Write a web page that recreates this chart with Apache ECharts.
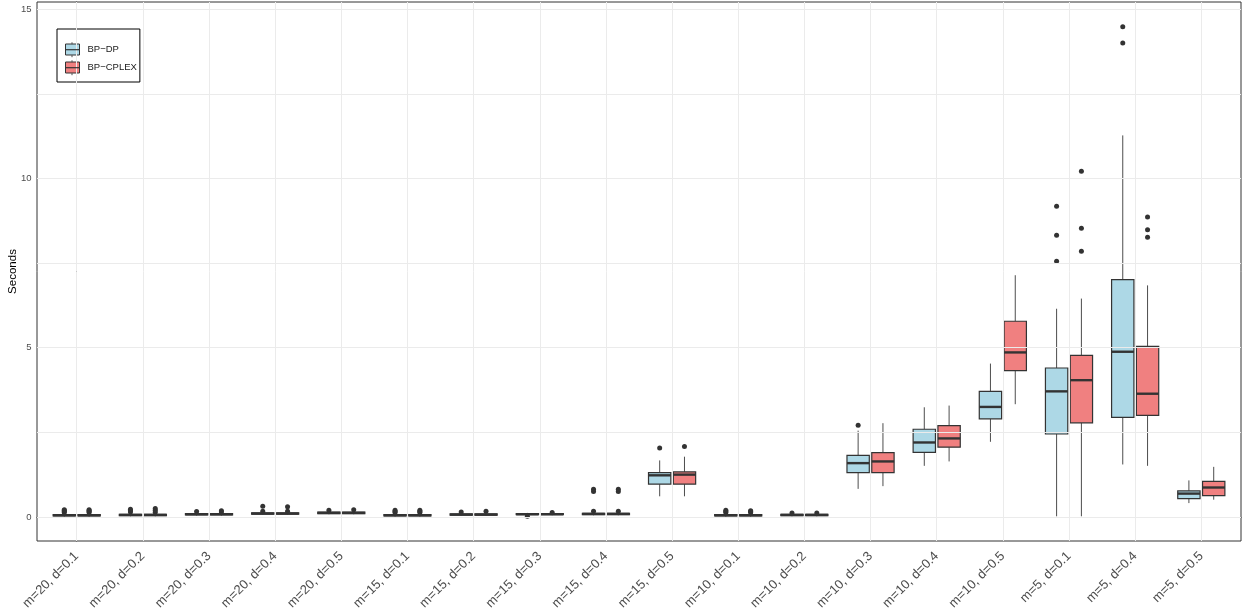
<!DOCTYPE html>
<html>
<head>
<meta charset="utf-8">
<script src="https://cdn.jsdelivr.net/npm/echarts@6/dist/echarts.min.js"></script>
<style>
  html, body { margin: 0; padding: 0; background: #ffffff; }
  #chart { width: 1242px; height: 614px; }
</style>
</head>
<body>
<div id="chart"></div>
<script>
// Problem settings on the x axis
const categories = [
  'm=20, d=0.1', 'm=20, d=0.2', 'm=20, d=0.3', 'm=20, d=0.4', 'm=20, d=0.5',
  'm=15, d=0.1', 'm=15, d=0.2', 'm=15, d=0.3', 'm=15, d=0.4', 'm=15, d=0.5',
  'm=10, d=0.1', 'm=10, d=0.2', 'm=10, d=0.3', 'm=10, d=0.4', 'm=10, d=0.5',
  'm=5, d=0.1', 'm=5, d=0.4', 'm=5, d=0.5'
];

const yTicks = [0, 5, 10, 15];
const yGrid = [0, 2.5, 5, 7.5, 10, 12.5, 15];

// Five-number summaries: [lower whisker, Q1, median, Q3, upper whisker]
const dpStats = [
  [0.01, 0.03, 0.05, 0.07, 0.11],
  [0.02, 0.04, 0.06, 0.08, 0.12],
  [0.04, 0.06, 0.08, 0.10, 0.13],
  [0.06, 0.08, 0.10, 0.12, 0.15],
  [0.08, 0.10, 0.12, 0.14, 0.17],
  [0.01, 0.03, 0.05, 0.07, 0.10],
  [0.03, 0.05, 0.07, 0.09, 0.12],
  [0.05, 0.07, 0.08, 0.10, 0.12],
  [0.05, 0.07, 0.09, 0.11, 0.14],
  [0.61, 0.97, 1.23, 1.31, 1.67],
  [0.01, 0.03, 0.05, 0.07, 0.10],
  [0.02, 0.04, 0.06, 0.08, 0.10],
  [0.83, 1.31, 1.59, 1.82, 2.55],
  [1.51, 1.91, 2.20, 2.59, 3.24],
  [2.22, 2.90, 3.25, 3.71, 4.53],
  [0.02, 2.45, 3.71, 4.40, 6.15],
  [1.55, 2.94, 4.88, 7.01, 11.27],
  [0.41, 0.54, 0.69, 0.77, 1.08]
];

const cplexStats = [
  [0.01, 0.03, 0.05, 0.07, 0.11],
  [0.02, 0.04, 0.06, 0.08, 0.12],
  [0.04, 0.06, 0.08, 0.10, 0.13],
  [0.06, 0.08, 0.10, 0.12, 0.15],
  [0.08, 0.10, 0.12, 0.14, 0.17],
  [0.01, 0.03, 0.05, 0.07, 0.10],
  [0.03, 0.05, 0.07, 0.09, 0.12],
  [0.05, 0.07, 0.08, 0.10, 0.12],
  [0.05, 0.07, 0.09, 0.11, 0.14],
  [0.61, 0.97, 1.25, 1.33, 1.78],
  [0.01, 0.03, 0.05, 0.07, 0.10],
  [0.02, 0.04, 0.06, 0.08, 0.10],
  [0.91, 1.31, 1.64, 1.90, 2.77],
  [1.64, 2.06, 2.32, 2.70, 3.29],
  [3.33, 4.32, 4.86, 5.78, 7.14],
  [0.02, 2.78, 4.04, 4.77, 6.45],
  [1.51, 3.00, 3.64, 5.04, 6.84],
  [0.51, 0.63, 0.87, 1.05, 1.48]
];

// Points beyond the whiskers
const dpOutliers = [
  [0.13, 0.16, 0.19, 0.21],
  [0.15, 0.19, 0.23],
  [0.16],
  [0.17, 0.32],
  [0.20],
  [0.13, 0.16, 0.20],
  [0.15],
  [0.02],
  [0.17, 0.75, 0.82],
  [2.04],
  [0.13, 0.16, 0.20],
  [0.12],
  [2.71],
  [],
  [],
  [7.55, 8.32, 9.18],
  [14.00, 14.48],
  []
];

const cplexOutliers = [
  [0.13, 0.16, 0.19, 0.21],
  [0.14, 0.20, 0.25],
  [0.15, 0.18],
  [0.17, 0.30],
  [0.21],
  [0.13, 0.16, 0.20],
  [0.17],
  [0.13],
  [0.17, 0.75, 0.82],
  [2.08],
  [0.13, 0.16, 0.18],
  [0.12],
  [],
  [],
  [],
  [7.85, 8.53, 10.21],
  [8.26, 8.48, 8.86],
  []
];

const DP_NAME = 'BP\u2212DP';
const CPLEX_NAME = 'BP\u2212CPLEX';
const DP_FILL = '#ADD8E6';
const CPLEX_FILL = '#F08080';
const INK = '#333333';
const FONT = '"Liberation Sans", Arial, Helvetica, sans-serif';

// Dodged box geometry, in category units
const DODGE = 0.1875;
const HALF = 0.16875;

function boxRenderer(offset, fill) {
  return function (params, api) {
    const cx = api.value(0) + offset;
    const lo = api.value(1), q1 = api.value(2), med = api.value(3), q3 = api.value(4), hi = api.value(5);
    const pLo = api.coord([cx, lo]);
    const pQ1 = api.coord([cx, q1]);
    const pQ3 = api.coord([cx, q3]);
    const pHi = api.coord([cx, hi]);
    const left = api.coord([cx - HALF, q1]);
    const right = api.coord([cx + HALF, q3]);
    const mL = api.coord([cx - HALF, med]);
    const mR = api.coord([cx + HALF, med]);
    return {
      type: 'group',
      children: [
        { type: 'line', shape: { x1: pLo[0], y1: pLo[1], x2: pQ1[0], y2: pQ1[1] },
          style: { stroke: '#4d4d4d', lineWidth: 1 } },
        { type: 'line', shape: { x1: pQ3[0], y1: pQ3[1], x2: pHi[0], y2: pHi[1] },
          style: { stroke: '#4d4d4d', lineWidth: 1 } },
        { type: 'rect',
          shape: { x: left[0], y: right[1], width: right[0] - left[0], height: left[1] - right[1] },
          style: { fill: fill, stroke: INK, lineWidth: 1.2 } },
        { type: 'line', shape: { x1: mL[0], y1: mL[1], x2: mR[0], y2: mR[1] },
          style: { stroke: INK, lineWidth: 2.4 } }
      ]
    };
  };
}

function outlierPoints(list, offset) {
  const pts = [];
  list.forEach((vals, i) => vals.forEach(v => pts.push([i + offset, v])));
  return pts;
}

const catIndex = categories.map((c, i) => i);

const chart = echarts.init(document.getElementById('chart'), null, { renderer: 'canvas' });

chart.setOption({
  animation: false,
  backgroundColor: '#ffffff',
  textStyle: { fontFamily: FONT },
  grid: {
    left: 37, right: 1, top: 2, bottom: 73,
    containLabel: false,
    outerBoundsMode: 'none',
    show: true, borderColor: INK, borderWidth: 1, backgroundColor: 'transparent'
  },
  legend: {
    orient: 'vertical',
    left: 57, top: 29,
    padding: [14.5, 3, 8.5, 8],
    borderColor: '#000000', borderWidth: 1,
    backgroundColor: '#ffffff',
    itemWidth: 14, itemHeight: 11, itemGap: 6,
    selectedMode: false,
    textStyle: { fontFamily: FONT, fontSize: 9.5, color: '#1a1a1a', lineHeight: 12, padding: [0, 0, 0, 3] },
    itemStyle: { borderColor: INK, borderWidth: 1 },
    data: [
      { name: DP_NAME, icon: 'rect' },
      { name: CPLEX_NAME, icon: 'rect' }
    ]
  },
  graphic: [
    // whiskers and medians on the legend keys
    { type: 'line', z: 100, shape: { x1: 72, y1: 42.3, x2: 72, y2: 44.2 }, style: { stroke: '#4d4d4d', lineWidth: 1 } },
    { type: 'line', z: 100, shape: { x1: 72, y1: 55.2, x2: 72, y2: 57.2 }, style: { stroke: '#4d4d4d', lineWidth: 1 } },
    { type: 'line', z: 100, shape: { x1: 65, y1: 49.7, x2: 79, y2: 49.7 }, style: { stroke: INK, lineWidth: 1.2 } },
    { type: 'line', z: 100, shape: { x1: 72, y1: 60.3, x2: 72, y2: 62.2 }, style: { stroke: '#4d4d4d', lineWidth: 1 } },
    { type: 'line', z: 100, shape: { x1: 72, y1: 73.2, x2: 72, y2: 75.2 }, style: { stroke: '#4d4d4d', lineWidth: 1 } },
    { type: 'line', z: 100, shape: { x1: 65, y1: 67.7, x2: 79, y2: 67.7 }, style: { stroke: INK, lineWidth: 1.2 } }
  ],
  xAxis: {
    type: 'value',
    min: -0.6, max: 17.6,
    axisLine: { show: true, lineStyle: { color: INK, width: 1 } },
    axisTick: { show: true, length: 3, customValues: catIndex, lineStyle: { color: INK } },
    axisLabel: {
      customValues: catIndex,
      formatter: v => categories[Math.round(v)],
      rotate: 45, margin: 13,
      fontFamily: FONT, fontSize: 13, color: '#4D4D4D'
    },
    splitLine: { show: false }
  },
  yAxis: {
    type: 'value',
    min: -0.71, max: 15.21,
    name: 'Seconds', nameLocation: 'middle', nameRotate: 90, nameGap: 18,
    nameMoveOverlap: false,
    nameTextStyle: { fontFamily: FONT, fontSize: 11.5, color: '#000000' },
    axisLine: { show: true, lineStyle: { color: INK, width: 1 } },
    axisTick: { show: true, length: 3, customValues: yTicks, lineStyle: { color: INK } },
    axisLabel: {
      customValues: yTicks, margin: 5.5,
      fontFamily: FONT, fontSize: 9.5, color: '#4D4D4D'
    },
    splitLine: { show: false }
  },
  series: [
    {
      name: 'grid',
      type: 'line',
      data: [],
      z: 0,
      silent: true,
      markLine: {
        silent: true,
        symbol: 'none',
        label: { show: false },
        lineStyle: { color: '#EBEBEB', type: 'solid', width: 1 },
        data: yGrid.map(v => ({ yAxis: v })).concat(catIndex.map(i => ({ xAxis: i })))
      }
    },
    {
      name: DP_NAME,
      type: 'custom',
      z: 2,
      itemStyle: { color: DP_FILL },
      encode: { x: 0, y: [1, 2, 3, 4, 5] },
      renderItem: boxRenderer(-DODGE, DP_FILL),
      data: dpStats.map((s, i) => [i].concat(s))
    },
    {
      name: CPLEX_NAME,
      type: 'custom',
      z: 2,
      itemStyle: { color: CPLEX_FILL },
      encode: { x: 0, y: [1, 2, 3, 4, 5] },
      renderItem: boxRenderer(DODGE, CPLEX_FILL),
      data: cplexStats.map((s, i) => [i].concat(s))
    },
    {
      name: DP_NAME + ' outliers',
      type: 'scatter',
      z: 3,
      symbolSize: 5,
      itemStyle: { color: INK, opacity: 1 },
      data: outlierPoints(dpOutliers, -DODGE)
    },
    {
      name: CPLEX_NAME + ' outliers',
      type: 'scatter',
      z: 3,
      symbolSize: 5,
      itemStyle: { color: INK, opacity: 1 },
      data: outlierPoints(cplexOutliers, DODGE)
    }
  ]
});
</script>
</body>
</html>
